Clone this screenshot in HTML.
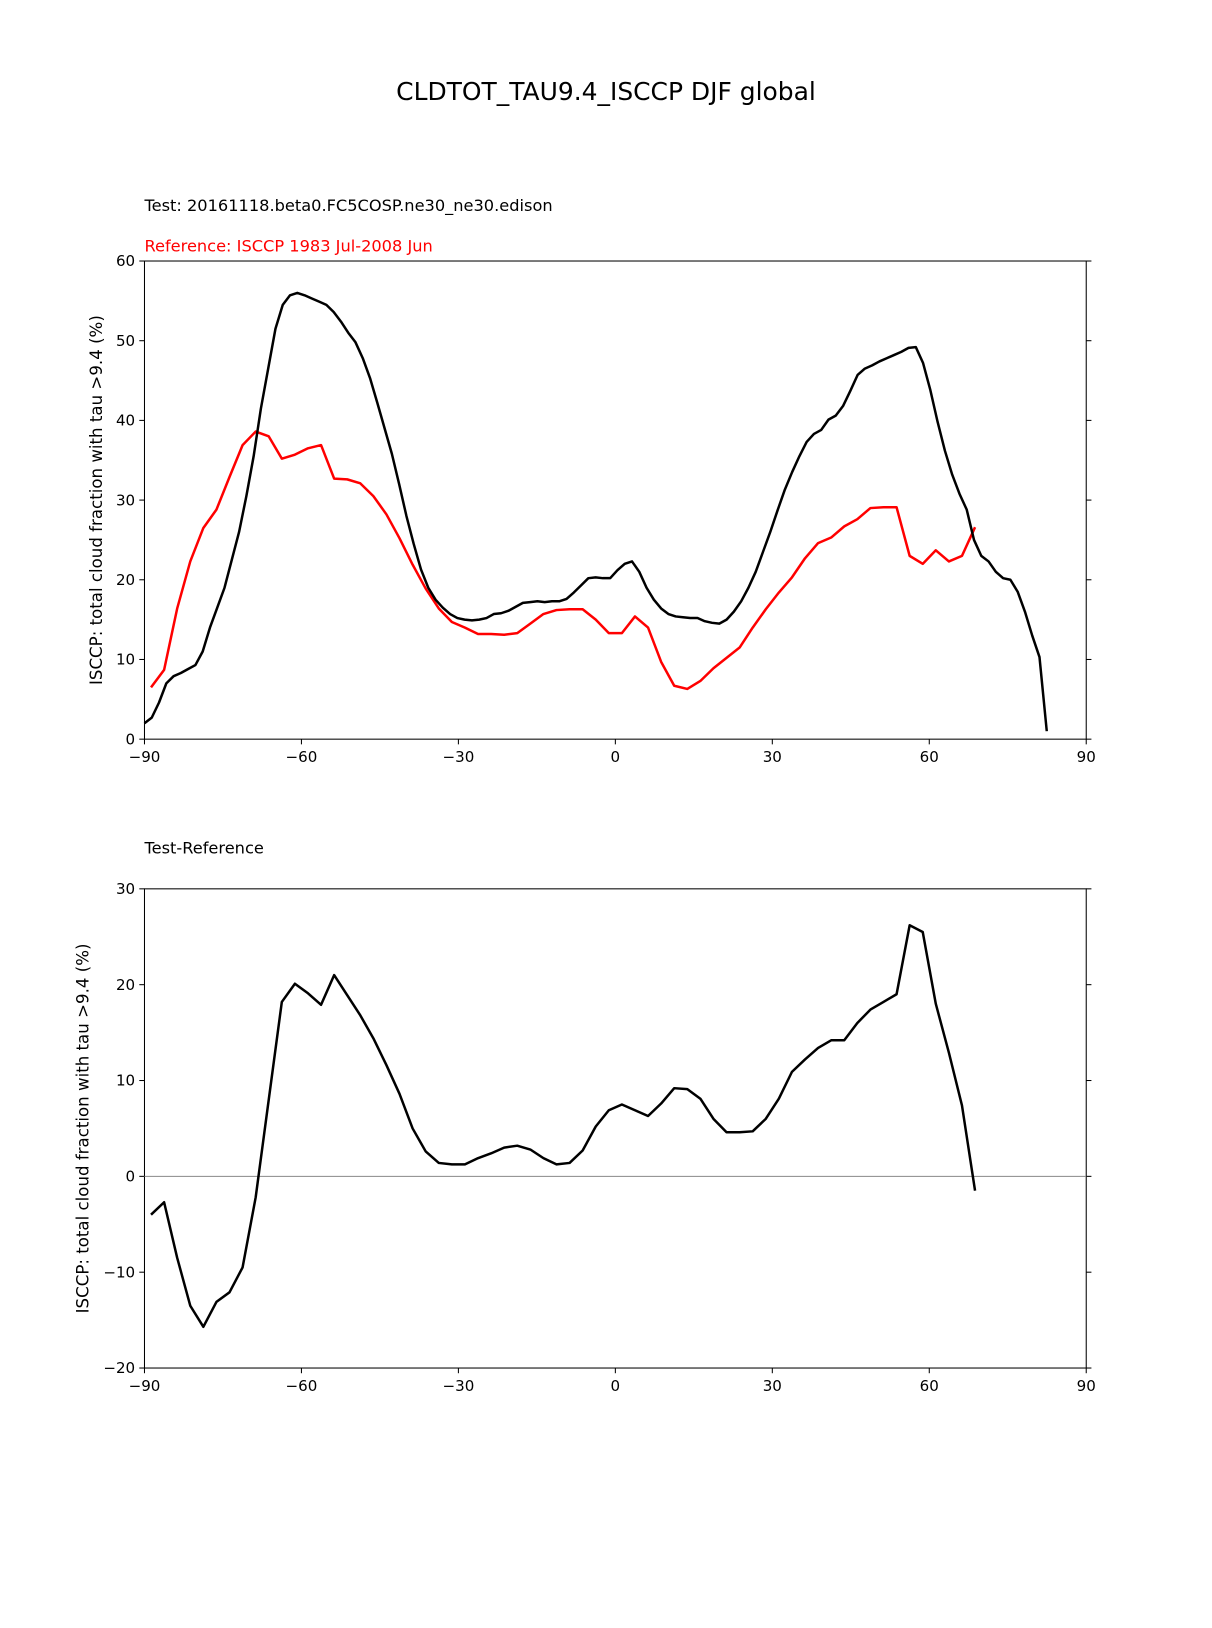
<!DOCTYPE html>
<html><head><meta charset="utf-8"><style>
html,body{margin:0;padding:0;background:#fff;}
svg{display:block;font-family:"DejaVu Sans","Liberation Sans",sans-serif;}
</style></head><body>
<svg id="fig" width="1212" height="1628" viewBox="0 0 1166 1566" xmlns="http://www.w3.org/2000/svg">
<rect width="1166" height="1566" fill="#fff"/>
<text x="583" y="96" font-size="24" text-anchor="middle">CLDTOT_TAU9.4_ISCCP DJF global</text>
<text x="139" y="203" font-size="15.6">Test: 20161118.beta0.FC5COSP.ne30_ne30.edison</text>
<text x="139" y="242" font-size="15.6" fill="#ff0000">Reference: ISCCP 1983 Jul-2008 Jun</text>
<text x="139" y="821" font-size="15.6">Test-Reference</text>
<g id="top"></g>
<g id="bot"></g>
</svg>
<script>
// Test series on ~1.39 degree grid starting at -90
const testLatStart = -90;
const testLatStep = 1.3908;
const testValues = [2.0,2.7,4.6,7.0,7.9,8.3,8.8,9.3,11,14,16.5,19,22.5,26,30.5,35.5,41.5,46.5,51.5,54.5,55.7,56,55.7,55.3,54.9,54.5,53.6,52.4,51,49.8,47.8,45.3,42.2,39,35.8,32,28,24.5,21.3,19,17.5,16.5,15.7,15.2,15,14.9,15,15.2,15.7,15.8,16.1,16.6,17.1,17.2,17.3,17.2,17.3,17.3,17.6,18.4,19.3,20.2,20.3,20.2,20.2,21.2,22,22.3,21,19,17.5,16.4,15.7,15.4,15.3,15.2,15.2,14.8,14.6,14.5,15,16,17.3,19,21,23.5,26,28.7,31.3,33.5,35.5,37.3,38.3,38.8,40.1,40.6,41.8,43.7,45.7,46.5,46.9,47.4,47.8,48.2,48.6,49.1,49.2,47.2,43.8,39.8,36.2,33.2,30.8,28.8,25,23,22.3,21,20.2,20,18.5,16,13,10.3,1];
// Reference & difference on 2.5 degree grid starting at -88.75
const refLatStart = -88.75;
const refLatStep = 2.5;
const refValues = [6.5,8.7,16.4,22.3,26.5,28.8,32.9,36.9,38.6,38,35.2,35.7,36.5,36.9,32.7,32.6,32.1,30.5,28.2,25.2,21.9,18.9,16.4,14.7,14,13.2,13.2,13.1,13.3,14.5,15.7,16.2,16.3,16.3,15,13.3,13.3,15.4,14,9.7,6.7,6.3,7.3,8.9,10.2,11.5,14,16.3,18.4,20.3,22.7,24.6,25.3,26.7,27.6,29,29.1,29.1,23,22,23.7,22.3,23,26.6];
const diffValues = [-4.0,-2.7,-8.5,-13.5,-15.7,-13.1,-12.1,-9.5,-2.2,8,18.2,20.1,19.1,17.9,21,18.9,16.8,14.4,11.6,8.6,5,2.6,1.4,1.25,1.25,1.9,2.4,3,3.2,2.8,1.9,1.25,1.4,2.7,5.2,6.9,7.5,6.9,6.3,7.6,9.2,9.1,8.1,6,4.6,4.6,4.7,6,8.1,10.9,12.2,13.4,14.2,14.2,16,17.4,18.2,19,26.2,25.5,18,12.9,7.4,-1.5];
const xTicks = [-90,-60,-30,0,30,60,90];
const topYTicks = [0,10,20,30,40,50,60];
const botYTicks = [-20,-10,0,10,20,30];

const NS = 'http://www.w3.org/2000/svg';
function mk(tag, attrs, parent){const e=document.createElementNS(NS,tag);for(const k in attrs)e.setAttribute(k,attrs[k]);parent.appendChild(e);return e;}
function fmt(v){return v<0?'\u2212'+Math.abs(v):String(v);}

function panel(g, y0, y1, ymin, ymax, yTicks, ylabelX, prefix){
  const x0=139, x1=1045;
  const xs = v => x0 + (v+90)/180*(x1-x0);
  const ys = v => y1 - (v-ymin)/(ymax-ymin)*(y1-y0);
  const frame = mk('rect',{x:x0,y:y0,width:x1-x0,height:y1-y0,fill:'none',stroke:'#000','stroke-width':1},g);
  
  
  xTicks.forEach(t=>{
    const x=xs(t);
    mk('line',{x1:x,x2:x,y1:y1,y2:y1+5,stroke:'#000'},g);
    const tx=mk('text',{x:x,y:y1+22,'font-size':14.5,'text-anchor':'middle'},g);
    tx.textContent=fmt(t);
    
    
  });
  yTicks.forEach(t=>{
    const y=ys(t);
    mk('line',{x1:x0-5,x2:x0,y1:y,y2:y,stroke:'#000'},g);
    mk('line',{x1:x1,x2:x1+5,y1:y,y2:y,stroke:'#000'},g);
    const tx=mk('text',{x:x0-9,y:y+5,'font-size':14.5,'text-anchor':'end'},g);
    tx.textContent=fmt(t);
    
    
  });
  const yl=mk('text',{x:0,y:0,'font-size':16,'text-anchor':'middle',transform:`translate(${ylabelX},${(y0+y1)/2}) rotate(-90)`},g);
  yl.textContent='ISCCP: total cloud fraction with tau >9.4 (%)';
  
  
  return {xs,ys};
}
function line(g, start, step, vals, xs, ys, color, name){
  const d = vals.map((v,i)=>(i?'L':'M')+xs(start+step*i).toFixed(2)+','+ys(v).toFixed(2)).join('');
  const p = mk('path',{d:d,fill:'none',stroke:color,'stroke-width':2.4,'stroke-linejoin':'round'},g);
  
  
}
const gt=document.getElementById('top');
const a=panel(gt,251,711,0,60,topYTicks,98,'top');
line(gt,refLatStart,refLatStep,refValues,a.xs,a.ys,'#ff0000','reference-line');
line(gt,testLatStart,testLatStep,testValues,a.xs,a.ys,'#000','test-line');
const gb=document.getElementById('bot');
const b=panel(gb,855,1316,-20,30,botYTicks,85,'bottom');
const z=mk('line',{x1:139,x2:1045,y1:b.ys(0),y2:b.ys(0),stroke:'#888','stroke-width':1},gb);


line(gb,refLatStart,refLatStep,diffValues,b.xs,b.ys,'#000','difference-line');
</script>
</body></html>
